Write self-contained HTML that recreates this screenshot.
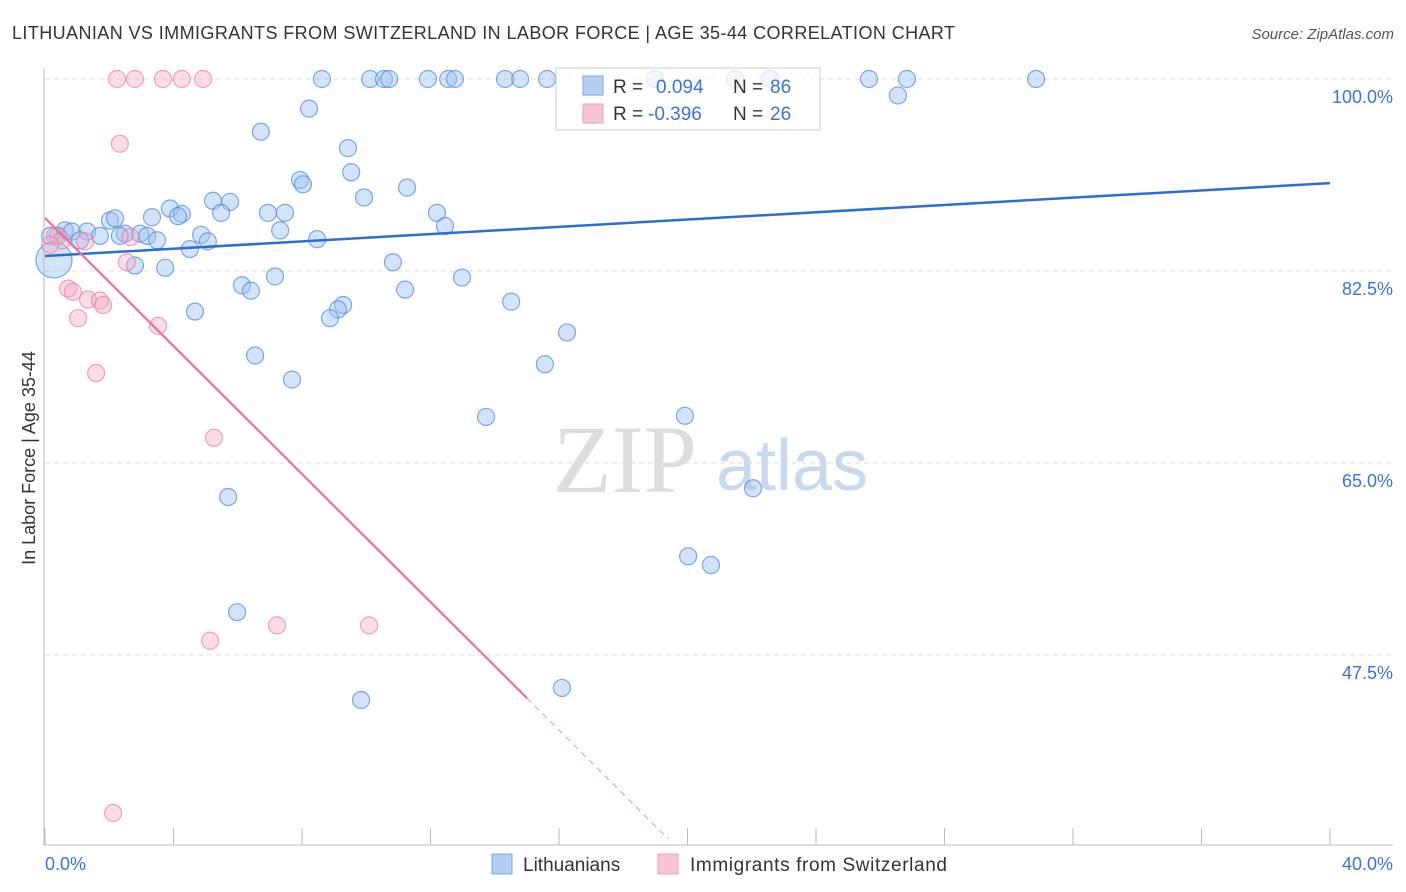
<!DOCTYPE html>
<html><head><meta charset="utf-8"><style>
body{margin:0;background:#fff;font-family:"Liberation Sans",sans-serif;}
</style></head><body>
<svg id="chart" width="1406" height="892" xmlns="http://www.w3.org/2000/svg" style="display:block">
<text x="12" y="39" font-size="18" fill="#333" textLength="943" lengthAdjust="spacing">LITHUANIAN VS IMMIGRANTS FROM SWITZERLAND IN LABOR FORCE | AGE 35-44 CORRELATION CHART</text>
<text x="1394" y="39" font-size="15" fill="#555" text-anchor="end" font-style="italic">Source: ZipAtlas.com</text>
<g>
<text x="553" y="492" font-size="96" font-family="Liberation Serif,serif" fill="#ddd">ZIP</text>
<text x="716" y="490" font-size="72" fill="#c8d8ee">atlas</text>
</g>
<g id="grid"></g>
<line x1="44" y1="68" x2="44" y2="845" stroke="#bbb"/>
<line x1="44" y1="845" x2="1393" y2="845" stroke="#bbb"/>
<text x="35" y="458" font-size="18" fill="#333" text-anchor="middle" transform="rotate(-90 35 458)">In Labor Force | Age 35-44</text>
<text x="45" y="870" font-size="18" fill="#3a72d8">0.0%</text>
<text x="1393" y="870" font-size="18" fill="#3a72d8" text-anchor="end">40.0%</text>
<g id="pts"></g>
<g id="lines"></g>
<g>
<rect x="556" y="68" width="264" height="62" fill="rgba(255,255,255,0.75)" stroke="#ccc"/>
<rect x="583" y="76" width="20" height="19" fill="#b5cff3" stroke="#7fa7e0"/>
<rect x="583" y="104" width="20" height="19" fill="#f8c4d3" stroke="#eda0b8"/>
<text x="613" y="93" font-size="19" fill="#333">R = </text><text x="656" y="93" font-size="19" fill="#3a72d8">0.094</text>
<text x="733" y="93" font-size="19" fill="#333">N = </text><text x="770" y="93" font-size="19" fill="#3a72d8">86</text>
<text x="613" y="120" font-size="19" fill="#333">R = </text><text x="648" y="120" font-size="19" fill="#3a72d8">-0.396</text>
<text x="733" y="120" font-size="19" fill="#333">N = </text><text x="770" y="120" font-size="19" fill="#3a72d8">26</text>
</g>
<g>
<rect x="492" y="854" width="20" height="20" fill="#b5cff3" stroke="#7fa7e0"/>
<text x="523" y="871" font-size="19" fill="#333">Lithuanians</text>
</g>
<g>
<rect x="658" y="854" width="20" height="20" fill="#f8c4d3" stroke="#eda0b8"/>
<text x="690" y="871" font-size="19" fill="#333" textLength="257" lengthAdjust="spacing">Immigrants from Switzerland</text>
</g>
</svg>
<script>
const yTicks=[100,82.5,65,47.5];
const yTickLabels=["100.0%","82.5%","65.0%","47.5%"];
const xTicks=[0,4,8,12,16,20,24,28,32,36,40];
const blueX=[8.62,10.12,10.55,10.71,11.92,12.55,12.76,14.32,14.79,15.63,18.99,21.48,22.57,25.65,26.83,30.85,26.55,8.22,6.72,9.43,7.94,8.03,9.53,11.27,9.93,5.23,5.76,5.48,3.89,4.26,4.14,3.33,2.02,2.18,6.94,7.47,7.32,12.2,12.45,0.62,0.84,1.31,0.4,1.09,1.71,2.49,2.96,3.18,3.49,2.33,4.86,5.07,4.51,8.47,2.8,3.74,10.83,12.98,7.16,6.13,6.41,11.21,14.51,9.28,9.12,8.87,4.67,16.25,6.54,15.56,7.69,13.73,19.92,22.04,5.7,20.02,20.73,5.98,16.09,9.84,0.16,0.28];
const blueY=[100,100,100,100,100,100,100,100,100,100,100,100,100,100,100,100,98.5,97.3,95.2,93.7,90.8,90.4,91.5,90.1,89.2,88.9,88.8,87.8,88.2,87.7,87.5,87.4,87.1,87.3,87.8,87.8,86.2,87.8,86.6,86.2,86.1,86.1,85.7,85.3,85.7,85.9,85.9,85.7,85.3,85.7,85.8,85.2,84.5,85.4,83,82.8,83.3,81.9,82,81.2,80.7,80.8,79.7,79.4,79,78.2,78.8,76.9,74.8,74,72.6,69.2,69.3,62.7,61.9,56.5,55.7,51.4,44.5,43.4,85.7,83.5];
const pinkX=[2.24,2.8,3.67,4.26,4.92,2.33,0.31,0.53,1.25,2.65,2.55,0.72,0.87,1.34,1.71,1.81,1.03,3.52,1.59,5.26,5.14,7.22,10.09,2.12,0.16,17.0];
const pinkY=[100,100,100,100,100,94.1,85.7,85.3,85.2,85.6,83.3,80.9,80.6,79.9,79.8,79.4,78.2,77.5,73.2,67.3,48.8,50.2,50.2,33.1,84.9,96.7];
const blueTrend=[83.87,0.166];
const pinkTrend=[87.33,-2.917];
const pinkSolidEnd=15.0, pinkDashEnd=19.4;
const NS="http://www.w3.org/2000/svg";
const X=v=>45+v/40*1285;
const Y=v=>79+(100-v)*192/17.5;
function mk(tag,attrs,parent){const e=document.createElementNS(NS,tag);for(const k in attrs)e.setAttribute(k,attrs[k]);parent.appendChild(e);return e;}
const grid=document.getElementById('grid');
yTicks.forEach((t,i)=>{
 const l=mk('line',{x1:45,x2:1393,y1:Y(t),y2:Y(t),stroke:'#ddd','stroke-dasharray':'5,4'},grid);
 
 
 const tx=mk('text',{x:1393,y:Y(t)+24,'font-size':18,fill:'#3a72d8','text-anchor':'end'},grid);
 tx.textContent=yTickLabels[i];
 
 
});
xTicks.forEach(t=>{
 const l=mk('line',{x1:X(t),x2:X(t),y1:828,y2:845,stroke:'#bbb'},grid);
 
 
});
const pts=document.getElementById('pts');
blueX.forEach((x,i)=>{
 const big=(i===blueX.length-1);
 const c=mk('circle',{cx:X(x),cy:Y(blueY[i]),r:big?18:8.5,fill:'rgba(160,195,240,0.45)',stroke:'rgba(80,140,220,0.75)','stroke-width':1.2},pts);
 
 
});
pinkX.forEach((x,i)=>{
 const c=mk('circle',{cx:X(x),cy:Y(pinkY[i]),r:8.5,fill:'rgba(245,170,195,0.4)',stroke:'rgba(235,130,165,0.75)','stroke-width':1.2},pts);
 
 
});
const lines=document.getElementById('lines');
const bl=mk('line',{x1:X(0),y1:Y(blueTrend[0]),x2:X(40),y2:Y(blueTrend[0]+blueTrend[1]*40),stroke:'#2a6fd4','stroke-width':2.5},lines);


const pl=mk('line',{x1:X(0),y1:Y(pinkTrend[0]),x2:X(pinkSolidEnd),y2:Y(pinkTrend[0]+pinkTrend[1]*pinkSolidEnd),stroke:'#e8709a','stroke-width':2.2},lines);


const pd=mk('line',{x1:X(pinkSolidEnd),y1:Y(pinkTrend[0]+pinkTrend[1]*pinkSolidEnd),x2:X(pinkDashEnd),y2:Y(pinkTrend[0]+pinkTrend[1]*pinkDashEnd),stroke:'#eea0bb','stroke-width':1.2,'stroke-dasharray':'6,5'},lines);


</script>
</body></html>
